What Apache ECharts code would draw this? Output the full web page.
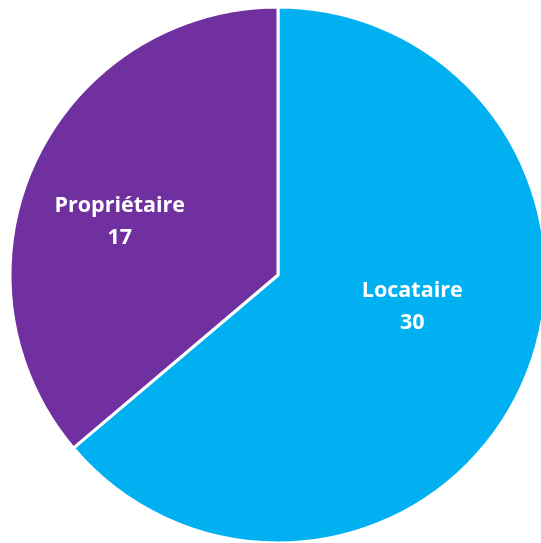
<!DOCTYPE html>
<html>
<head>
<meta charset="utf-8">
<script src="https://cdn.jsdelivr.net/npm/echarts@6/dist/echarts.min.js"></script>
<style>
  html, body { margin: 0; padding: 0; background: #fff; }
  #chart { width: 541px; height: 543px; }
</style>
</head>
<body>
<div id="chart"></div>
<script>
const categories = ['Locataire', 'Propriétaire'];
const values = [30, 17];
const colors = ['#00B0F0', '#7030A0'];
const labelOffsets = [[10, -26], [-34, 5]];

const chart = echarts.init(document.getElementById('chart'));

chart.setOption({
  animation: false,
  series: [{
    type: 'pie',
    center: [278, 275],
    radius: 268,
    startAngle: 90,
    clockwise: true,
    itemStyle: { borderColor: '#fff', borderWidth: 3 },
    label: {
      position: 'inside',
      color: '#fff',
      fontFamily: 'Open Sans',
      fontWeight: 'bold',
      fontSize: 21.5,
      lineHeight: 32,
      formatter: '{b}\n{c}'
    },
    labelLine: { show: false },
    emphasis: { disabled: true },
    data: categories.map((name, i) => ({
      name: name,
      value: values[i],
      itemStyle: { color: colors[i] },
      label: { offset: labelOffsets[i] }
    }))
  }]
});
</script>
</body>
</html>
